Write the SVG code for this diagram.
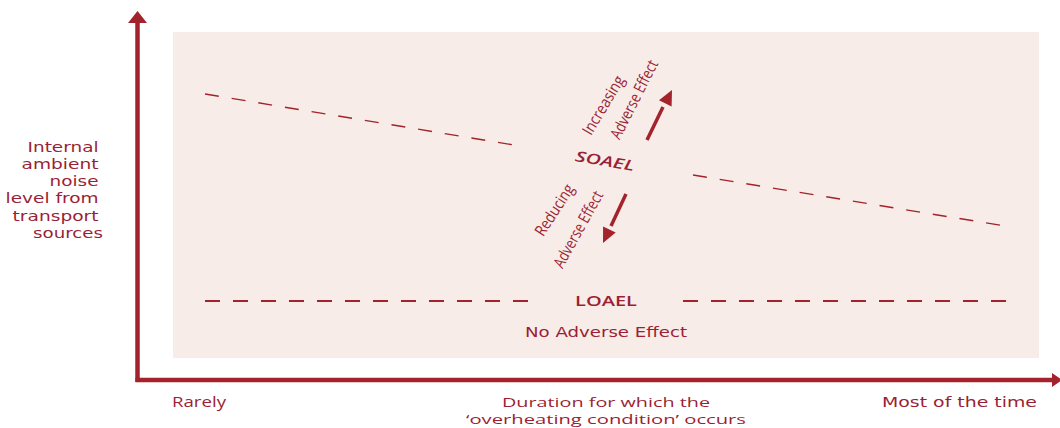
<svg xmlns="http://www.w3.org/2000/svg" width="1060" height="428" viewBox="0 0 1060 428">
<style>
.t{font-family:"DejaVu Sans","Liberation Sans",sans-serif;fill:#9b1f35;font-size:14px}
.n{font-family:"Open Sans","Liberation Sans",sans-serif;fill:#9b1f35;font-size:14.5px}
.r{font-family:"Open Sans","Liberation Sans",sans-serif;fill:#9b1f35;font-size:16px}
.b{font-family:"Open Sans","Liberation Sans",sans-serif;fill:#9b1f35;font-size:13.5px}
.d{stroke:#a3222b;stroke-width:1.4;stroke-dasharray:14,13;fill:none}
.d2{stroke:#a3222b;stroke-width:2.2;stroke-dasharray:15,13;fill:none}
.ax{stroke:#a3222b;stroke-width:4.5;fill:none}
.ar{stroke:#a3222b;stroke-width:3.5;fill:none}
.hd{fill:#a3222b}
</style>
<rect width="1060" height="428" fill="#ffffff"/>
<g id="background"><rect x="173" y="32" width="866" height="326" fill="#f7ece7"/></g>
<g id="connectors">
<path class="ax" d="M137.5,382 V22"/>
<path class="hd" d="M128,23 L137.5,11 L147,23 z"/>
<path class="ax" d="M135.5,380 H1052"/>
<path class="hd" d="M1052,373 L1062,380 L1052,387 z"/>
<path class="d" d="M205,94 L520,146"/>
<path class="d" d="M693,175 L1005,226"/>
<path class="d2" d="M205,301 H532"/>
<path class="d2" d="M683,301 H1008"/>
<path class="ar" d="M647,140 L663,107"/>
<path class="hd" d="M672,90 L671.6,106.5 L659,100.3 z"/>
<path class="ar" d="M626,194 L611,226"/>
<path class="hd" d="M603,243 L615.7,232.4 L603.1,226.4 z"/>
</g>
<g id="y-label">
<text class="t" text-anchor="end">
<tspan x="103" y="152" textLength="71" lengthAdjust="spacingAndGlyphs">Internal</tspan>
<tspan x="103" y="169" textLength="77" lengthAdjust="spacingAndGlyphs">ambient</tspan>
<tspan x="103" y="186" textLength="49" lengthAdjust="spacingAndGlyphs">noise</tspan>
<tspan x="103" y="203" textLength="93" lengthAdjust="spacingAndGlyphs">level from</tspan>
<tspan x="103" y="221" textLength="86" lengthAdjust="spacingAndGlyphs">transport</tspan>
<tspan x="103" y="238" textLength="70" lengthAdjust="spacingAndGlyphs">sources</tspan>
</text>
</g>
<g id="soael"><text class="n" font-weight="600" font-style="italic" text-anchor="middle" textLength="60" lengthAdjust="spacingAndGlyphs" transform="translate(604,166) rotate(9.4)">SOAEL</text></g>
<g id="loael"><text class="n" font-weight="600" text-anchor="middle" x="606" y="306" textLength="62" lengthAdjust="spacingAndGlyphs">LOAEL</text></g>
<g id="no-adverse"><text class="t" text-anchor="middle" x="606" y="337" textLength="162" lengthAdjust="spacingAndGlyphs">No Adverse Effect</text></g>
<g id="increasing">
<text class="r" text-anchor="middle" textLength="66" lengthAdjust="spacingAndGlyphs" transform="translate(608,108) rotate(-59)">Increasing</text>
<text class="r" text-anchor="middle" textLength="86" lengthAdjust="spacingAndGlyphs" transform="translate(639,102) rotate(-63)">Adverse Effect</text>
</g>
<g id="reducing">
<text class="r" text-anchor="middle" textLength="58" lengthAdjust="spacingAndGlyphs" transform="translate(559,213) rotate(-57)">Reducing</text>
<text class="r" text-anchor="middle" textLength="85" lengthAdjust="spacingAndGlyphs" transform="translate(583,232) rotate(-61)">Adverse Effect</text>
</g>
<g id="x-labels">
<text class="n" x="172" y="407" textLength="54" lengthAdjust="spacingAndGlyphs">Rarely</text>
<text class="b" text-anchor="middle"><tspan x="606" y="407" textLength="208" lengthAdjust="spacingAndGlyphs">Duration for which the</tspan><tspan x="606" y="424" textLength="280" lengthAdjust="spacingAndGlyphs">‘overheating condition’ occurs</tspan></text>
<text class="t" x="882" y="407" textLength="155" lengthAdjust="spacingAndGlyphs">Most of the time</text>
</g>
</svg>
